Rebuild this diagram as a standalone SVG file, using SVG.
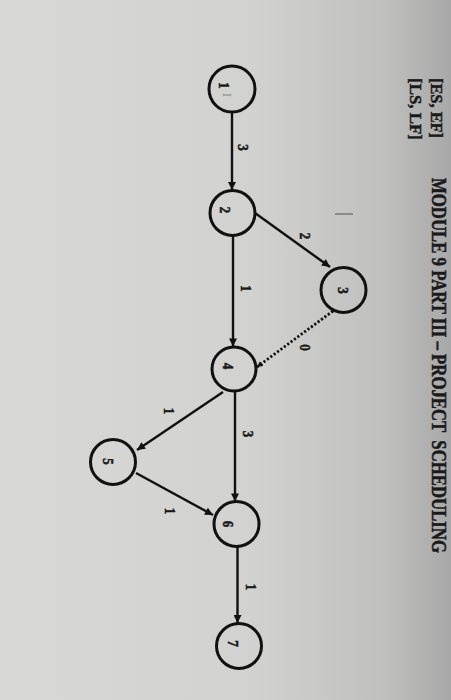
<svg xmlns="http://www.w3.org/2000/svg" width="451" height="700" viewBox="0 0 451 700">
<defs>
<linearGradient id="bg" x1="0" y1="0" x2="1" y2="0">
<stop offset="0" stop-color="#d8d8d6"/>
<stop offset="0.55" stop-color="#d2d2d0"/>
<stop offset="0.85" stop-color="#c0c0bf"/>
<stop offset="1" stop-color="#a8a8a8"/>
</linearGradient>
<marker id="arr" viewBox="0 0 10 10" refX="10" refY="5" markerWidth="10" markerHeight="8" markerUnits="userSpaceOnUse" orient="auto">
<path d="M0,0 L10,5 L0,10 z" fill="#111"/>
</marker>
<marker id="arrs" viewBox="0 0 10 10" refX="10" refY="5" markerWidth="6" markerHeight="6" markerUnits="userSpaceOnUse" orient="auto">
<path d="M0,0 L10,5 L0,10 z" fill="#111"/>
</marker>
</defs>
<style>
.node{fill:none;stroke:#111;stroke-width:3}
.edge{stroke:#111;stroke-width:2.4;fill:none}
.dot{stroke:#111;stroke-width:2.8;stroke-dasharray:2.2 2;fill:none}
.t{font-family:"Liberation Serif","Times New Roman",serif;font-weight:700;fill:#1a1a1a;stroke:#1a1a1a;stroke-width:0.45}
.d{font-size:13px;text-anchor:middle}
</style>
<rect width="451" height="700" fill="url(#bg)"/>

<g id="header">
<text class="t" font-size="16" font-weight="700" transform="translate(431,78) rotate(90) scale(1,1.05)" textLength="60" lengthAdjust="spacingAndGlyphs">[ES, EF]</text>
<text class="t" font-size="16" font-weight="700" transform="translate(410,78) rotate(90) scale(1,1.05)" textLength="62" lengthAdjust="spacingAndGlyphs">[LS, LF]</text>
<text class="t" font-size="16.6" font-weight="700" xml:space="preserve" transform="translate(432,178) rotate(90) scale(1,1.2)" textLength="375" lengthAdjust="spacingAndGlyphs">MODULE 9 PART III – PROJECT  SCHEDULING</text>
</g>

<g id="connectors">
<line class="edge" x1="232" y1="112" x2="232" y2="190" marker-end="url(#arr)"/>
<line class="edge" x1="255" y1="213" x2="330" y2="267" marker-end="url(#arr)"/>
<line class="edge" x1="233" y1="235.5" x2="233" y2="346.5" marker-end="url(#arr)"/>
<line class="dot" x1="333" y1="311" x2="257" y2="367" marker-end="url(#arrs)"/>
<line class="edge" x1="235" y1="391.5" x2="235" y2="501.5" marker-end="url(#arr)"/>
<line class="edge" x1="223" y1="392" x2="137" y2="450" marker-end="url(#arr)"/>
<line class="edge" x1="136" y1="473" x2="213" y2="515" marker-end="url(#arr)"/>
<line class="edge" x1="237.5" y1="547" x2="237.5" y2="623" marker-end="url(#arr)"/>
<text class="t d" font-weight="700" transform="translate(238,147.5) rotate(90) scale(1,1.2)">3</text>
<text class="t d" font-weight="700" transform="translate(300,236) rotate(90) scale(1,1.2)">2</text>
<text class="t d" font-weight="700" transform="translate(241,288.5) rotate(90) scale(1,1.2)">1</text>
<text class="t d" font-weight="700" transform="translate(300,347.5) rotate(90) scale(1,1.2)">0</text>
<text class="t d" font-weight="700" transform="translate(243,434) rotate(90) scale(1,1.2)">3</text>
<text class="t d" font-weight="700" transform="translate(164,411) rotate(90) scale(1,1.2)">1</text>
<text class="t d" font-weight="700" transform="translate(165,511) rotate(90) scale(1,1.2)">1</text>
<text class="t d" font-weight="700" transform="translate(246,587) rotate(90) scale(1,1.2)">1</text>
</g>

<g id="node1">
<circle class="node" cx="232" cy="89" r="23"/>
<text class="t d" font-weight="700" transform="translate(219,85.5) rotate(90) scale(1,1.2)">1</text>
<text font-family="Liberation Serif,serif" font-size="12" fill="#888" text-anchor="middle" transform="translate(223,95) rotate(90) scale(1,1.1)">I</text>
</g>
<g id="node2">
<circle class="node" cx="232.5" cy="213" r="22.5"/>
<text class="t d" font-weight="700" transform="translate(220,210) rotate(90) scale(1,1.2)">2</text>
</g>
<g id="node3">
<circle class="node" cx="343.5" cy="290" r="22.5"/>
<text class="t d" font-weight="700" transform="translate(338,290.5) rotate(90) scale(1,1.2)">3</text>
</g>
<g id="node4">
<circle class="node" cx="234" cy="369" r="22"/>
<text class="t d" font-weight="700" transform="translate(223,366) rotate(90) scale(1,1.2)">4</text>
</g>
<g id="node5">
<circle class="node" cx="113" cy="462" r="22.5"/>
<text class="t d" font-weight="700" transform="translate(103,461.5) rotate(90) scale(1,1.2)">5</text>
</g>
<g id="node6">
<circle class="node" cx="236.5" cy="524" r="22.5"/>
<text class="t d" font-weight="700" transform="translate(223,524) rotate(90) scale(1,1.2)">6</text>
</g>
<g id="node7">
<circle class="node" cx="239" cy="646" r="22.5"/>
<text class="t d" font-weight="700" transform="translate(228,643.5) rotate(90) scale(1,1.2)">7</text>
</g>

<g id="mark">
<line x1="335" y1="214" x2="353" y2="214" stroke="#777" stroke-width="1.5"/>
</g>
</svg>
